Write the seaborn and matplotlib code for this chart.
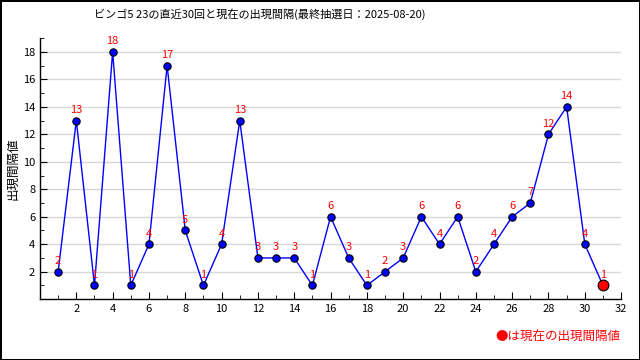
import numpy as np
import pandas as pd
import seaborn as sns
import matplotlib.pyplot as plt
from matplotlib.ticker import MultipleLocator

# intervals of the last 30 draws + the current one
draw_no = list(range(1, 32))
interval = [2, 13, 1, 18, 1, 4, 17, 5, 1, 4, 13, 3, 3, 3, 1, 6, 3, 1, 2, 3,
            6, 4, 6, 2, 4, 6, 7, 12, 14, 4, 1]
title = "ビンゴ5 23の直近30回と現在の出現間隔(最終抽選日：2025-08-20)"

df = pd.DataFrame({'draw': draw_no, 'interval': interval})

sns.set_style('white')
plt.rcParams['font.family'] = ['Noto Sans CJK JP', 'DejaVu Sans']
plt.rcParams['text.color'] = 'black'
plt.rcParams['axes.labelcolor'] = 'black'
plt.rcParams['xtick.color'] = 'black'
plt.rcParams['ytick.color'] = 'black'

fig = plt.figure(figsize=(6.4, 3.6), dpi=100)
fig.patch.set_edgecolor('black')
fig.patch.set_linewidth(2)
ax = fig.add_axes([0.0625, 0.169, 0.908, 0.725])

# line through all points
sns.lineplot(data=df, x='draw', y='interval', ax=ax, color='blue', lw=1)
# past points
past = df.iloc[:-1]
sns.scatterplot(data=past, x='draw', y='interval', ax=ax, color='blue',
                edgecolor='black', s=28, linewidth=0.8, zorder=3)
# current point
cur = df.iloc[-1:]
sns.scatterplot(data=cur, x='draw', y='interval', ax=ax, color='red',
                edgecolor='black', s=60, linewidth=0.8, zorder=4)

for x, y in zip(df['draw'], df['interval']):
    ax.annotate(str(y), (x, y), xytext=(0, 4), textcoords='offset points',
                ha='center', va='bottom', color='red', fontsize=8)

ax.set_xlim(0, 32)
ax.set_ylim(0, 19)
ax.xaxis.set_minor_locator(MultipleLocator(1))
ax.yaxis.set_minor_locator(MultipleLocator(1))
ax.set_xticks(range(2, 33, 2))
ax.set_yticks(range(2, 19, 2))
ax.tick_params(which='major', direction='in', length=5, labelsize=8, color='black')
ax.tick_params(which='minor', direction='in', length=3, color='black')
ax.tick_params(axis='x', which='both', bottom=True)
ax.tick_params(axis='y', which='both', left=True)
ax.grid(axis='y', color='#d8d8d8', lw=1)
ax.set_axisbelow(True)
for s in ['top', 'right']:
    ax.spines[s].set_visible(False)
for s in ['left', 'bottom']:
    ax.spines[s].set_color('black')
    ax.spines[s].set_linewidth(1)
ax.set_xlabel('')
ax.set_ylabel('出現間隔値', fontsize=9)
ax.yaxis.set_label_coords(-0.035, 0.5)

fig.text(0.406, 0.962, title, ha='center', va='center', fontsize=8)
fig.text(0.97, 0.063, '●は現在の出現間隔値', ha='right', va='center',
         color='red', fontsize=9)

fig.savefig('out.png', dpi=100, edgecolor=fig.get_edgecolor())
